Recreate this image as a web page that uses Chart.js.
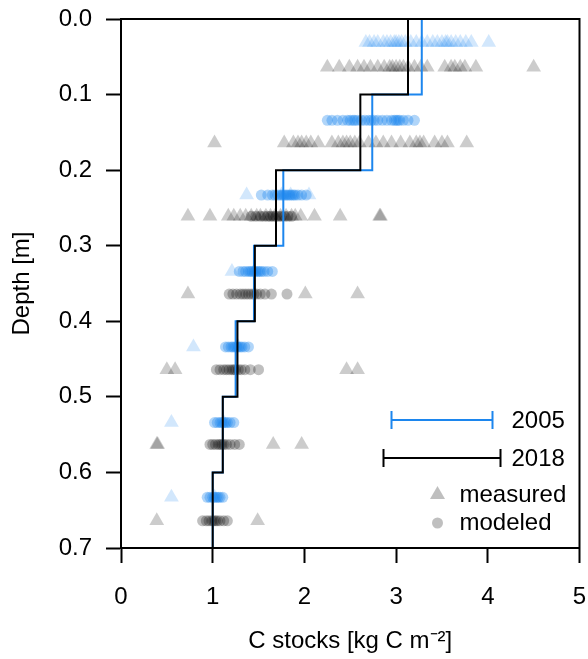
<!DOCTYPE html>
<html>
<head>
<meta charset="utf-8">
<script src="https://cdn.jsdelivr.net/npm/chart.js@4.4.1/dist/chart.umd.min.js"></script>
<style>
  html, body { margin: 0; padding: 0; background: #fff; }
</style>
</head>
<body>
<canvas id="stocks-chart" width="588" height="659"></canvas>
<script>
// layer boundaries [m] and mean stocks per layer [kg C m-2]
const layerBounds = [0, 0.1, 0.2, 0.3, 0.4, 0.5, 0.6, 0.7];
const stock2005 = [3.28, 2.74, 1.77, 1.45, 1.25, 1.11, 1.0];
const stock2018 = [3.13, 2.61, 1.69, 1.46, 1.27, 1.11, 1.0];

// depth at which the points of each layer are plotted
const rowDepth2005 = [0.031, 0.134, 0.233, 0.334, 0.434, 0.534, 0.633];
const rowDepth2018 = [0.064, 0.164, 0.261, 0.364, 0.464, 0.563, 0.664];

const measured2005 = [
  [2.67, 2.71, 2.76, 2.8, 2.86, 2.9, 2.94, 2.98, 3.0, 3.03, 3.06, 3.1, 3.16, 3.22, 3.28, 3.34, 3.4, 3.45, 3.5, 3.54, 3.56, 3.6, 3.65, 3.7, 3.76, 3.82, 4.01],
  [],
  [1.37, 1.75, 1.85, 2.05],
  [1.21, 1.45],
  [0.79, 1.28],
  [0.55, 1.12],
  [0.55, 1.02]
];
const modeled2005 = [
  [],
  [2.25, 2.3, 2.36, 2.42, 2.47, 2.5, 2.53, 2.55, 2.58, 2.62, 2.66, 2.7, 2.73, 2.76, 2.8, 2.85, 2.9, 2.95, 2.98, 3.0, 3.02, 3.04, 3.08, 3.13, 3.2],
  [1.53, 1.6, 1.65, 1.68, 1.71, 1.74, 1.76, 1.78, 1.8, 1.82, 1.84, 1.86, 1.88, 1.9, 1.93, 1.97, 2.02],
  [1.29, 1.33, 1.36, 1.39, 1.41, 1.43, 1.45, 1.47, 1.49, 1.51, 1.53, 1.56, 1.6, 1.65],
  [1.14, 1.17, 1.2, 1.22, 1.24, 1.26, 1.28, 1.3, 1.32, 1.35, 1.39],
  [1.02, 1.05, 1.08, 1.1, 1.12, 1.14, 1.16, 1.19, 1.23],
  [0.94, 0.97, 1.0, 1.02, 1.04, 1.06, 1.08, 1.11]
];
const measured2018 = [
  [2.25, 2.38, 2.49, 2.58, 2.65, 2.72, 2.8, 2.87, 2.93, 2.96, 3.0, 3.04, 3.08, 3.13, 3.2, 3.27, 3.34, 3.53, 3.6, 3.64, 3.7, 3.75, 3.87, 4.5],
  [1.02, 1.78, 1.88, 1.93, 1.97, 2.02, 2.07, 2.15, 2.3, 2.37, 2.42, 2.46, 2.5, 2.55, 2.6, 2.7, 2.78, 2.86, 2.95, 3.05, 3.15, 3.22, 3.26, 3.3, 3.42, 3.5, 3.56, 3.77],
  [0.73, 0.97, 1.17, 1.23, 1.3, 1.36, 1.42, 1.48, 1.52, 1.58, 1.63, 1.68, 1.74, 1.8, 1.86, 1.9, 1.96, 2.11, 2.39, 2.82, 2.83],
  [0.73, 2.01, 2.58],
  [0.5, 0.59, 2.46, 2.58],
  [0.39, 0.4, 1.66, 1.97],
  [0.39, 1.49]
];
const modeled2018 = [
  [],
  [],
  [1.42, 1.47, 1.52, 1.56, 1.6, 1.63, 1.66, 1.69, 1.72, 1.75, 1.78, 1.82, 1.86],
  [1.18, 1.22, 1.26, 1.3, 1.33, 1.36, 1.39, 1.42, 1.45, 1.48, 1.52, 1.57, 1.64, 1.81],
  [1.04, 1.08, 1.12, 1.15, 1.18, 1.21, 1.23, 1.25, 1.28, 1.31, 1.35, 1.41, 1.5],
  [0.97, 1.0, 1.03, 1.06, 1.08, 1.1, 1.12, 1.15, 1.19, 1.24, 1.29],
  [0.89, 0.93, 0.96, 0.99, 1.01, 1.03, 1.05, 1.08, 1.12, 1.16]
];

const blue = 'rgb(28,134,238)';
const blueFill = 'rgba(28,134,238,0.2)';
const greyFill = 'rgba(0,0,0,0.2)';

function stepLine(stocks) {
  const pts = [];
  stocks.forEach(function(s, i) {
    pts.push({x: s, y: layerBounds[i]});
    pts.push({x: s, y: layerBounds[i + 1]});
  });
  return pts;
}

function rows(values, depths) {
  const pts = [];
  values.forEach(function(row, i) {
    row.forEach(function(v) { pts.push({x: v, y: depths[i]}); });
  });
  return pts;
}

Chart.defaults.font.family = '"Liberation Sans", Arial, sans-serif';
Chart.defaults.font.size = 24;
Chart.defaults.color = '#000';

// box around the plot region and the legend
const boxAndLegend = {
  id: 'boxAndLegend',
  afterDraw(chart) {
    const ctx = chart.ctx;
    const a = chart.chartArea;
    ctx.save();
    ctx.strokeStyle = '#000';
    ctx.lineWidth = 2;
    ctx.strokeRect(a.left, a.top, a.right - a.left, a.bottom - a.top);

    function bar(x1, x2, y, color) {
      ctx.strokeStyle = color;
      ctx.lineWidth = 2;
      ctx.beginPath();
      ctx.moveTo(x1, y); ctx.lineTo(x2, y);
      ctx.moveTo(x1, y - 9); ctx.lineTo(x1, y + 9);
      ctx.moveTo(x2, y - 9); ctx.lineTo(x2, y + 9);
      ctx.stroke();
    }
    const r = a.right;
    bar(r - 188, r - 87, 420, blue);
    bar(r - 196, r - 79, 458, '#000');

    ctx.fillStyle = 'rgba(0,0,0,0.25)';
    ctx.beginPath();
    const tx = r - 142, ty = 494;
    ctx.moveTo(tx, ty - 8);
    ctx.lineTo(tx + 7.5, ty + 5);
    ctx.lineTo(tx - 7.5, ty + 5);
    ctx.closePath();
    ctx.fill();
    ctx.beginPath();
    ctx.arc(r - 142, 523, 5.5, 0, Math.PI * 2);
    ctx.fill();

    ctx.fillStyle = '#000';
    ctx.font = '24px "Liberation Sans", Arial, sans-serif';
    ctx.textBaseline = 'middle';
    ctx.textAlign = 'left';
    ctx.fillText('2005', r - 68, 421);
    ctx.fillText('2018', r - 68, 459);
    ctx.fillText('measured', r - 120, 495);
    ctx.fillText('modeled', r - 120, 523);
    ctx.restore();
  }
};

new Chart(document.getElementById('stocks-chart'), {
  type: 'scatter',
  data: {
    datasets: [
      {
        label: '2018',
        data: stepLine(stock2018),
        showLine: true,
        borderColor: '#000',
        borderWidth: 2,
        pointRadius: 0,
        order: 0
      },
      {
        label: '2005',
        data: stepLine(stock2005),
        showLine: true,
        borderColor: blue,
        borderWidth: 2,
        pointRadius: 0,
        order: 1
      },
      {
        label: 'modeled 2018',
        data: rows(modeled2018, rowDepth2018),
        pointStyle: 'circle',
        pointRadius: 5.5,
        borderWidth: 0,
        backgroundColor: 'rgba(0,0,0,0.25)',
        order: 2
      },
      {
        label: 'measured 2018',
        data: rows(measured2018, rowDepth2018),
        pointStyle: 'triangle',
        pointRadius: 8.5,
        borderWidth: 0,
        backgroundColor: greyFill,
        order: 3
      },
      {
        label: 'modeled 2005',
        data: rows(modeled2005, rowDepth2005),
        pointStyle: 'circle',
        pointRadius: 5.5,
        borderWidth: 0,
        backgroundColor: 'rgba(28,134,238,0.35)',
        order: 4
      },
      {
        label: 'measured 2005',
        data: rows(measured2005, rowDepth2005),
        pointStyle: 'triangle',
        pointRadius: 8.5,
        borderWidth: 0,
        backgroundColor: blueFill,
        order: 5
      }
    ]
  },
  options: {
    responsive: false,
    animation: false,
    devicePixelRatio: 1,
    events: [],
    layout: { padding: { top: 19, right: 7, left: 0, bottom: 0 } },
    plugins: { legend: { display: false }, tooltip: { enabled: false } },
    scales: {
      x: {
        type: 'linear',
        min: 0,
        max: 5,
        afterFit: function(scale) {
          scale.height = 111;
          scale.paddingLeft = 0;
          scale.paddingRight = 0;
        },
        ticks: { stepSize: 1, padding: 20, maxRotation: 0 },
        grid: { drawOnChartArea: false, tickLength: 15, tickWidth: 2, tickColor: '#000' },
        border: { display: true, color: '#000', width: 2 },
        title: { display: true, text: 'C stocks [kg C m\u207B\u00B2]', padding: { top: 0, bottom: 3 } }
      },
      y: {
        type: 'linear',
        reverse: true,
        min: 0,
        max: 0.7,
        afterFit: function(scale) {
          scale.width = 121;
          scale.paddingTop = 0;
          scale.paddingBottom = 0;
        },
        ticks: { stepSize: 0.1, padding: 14, callback: function(v) { return v.toFixed(1); } },
        grid: { drawOnChartArea: false, tickLength: 15, tickWidth: 2, tickColor: '#000' },
        border: { display: true, color: '#000', width: 2 },
        title: { display: true, text: 'Depth [m]', padding: { top: 8, bottom: 0 } }
      }
    }
  },
  plugins: [boxAndLegend]
});
</script>
</body>
</html>
